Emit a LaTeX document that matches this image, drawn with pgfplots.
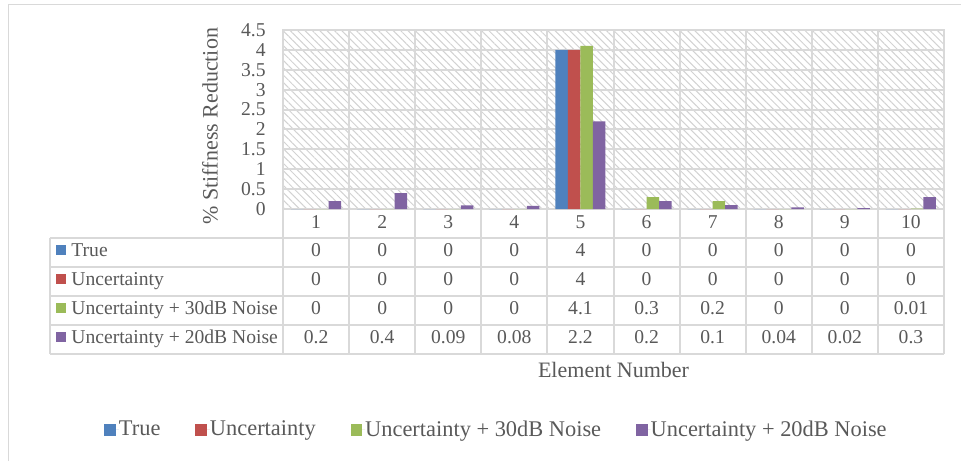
\documentclass[border=0pt]{standalone}
\usepackage{pgfplots}
\pgfplotsset{compat=1.18}
\usepackage{pgfplotstable}
\usetikzlibrary{patterns.meta}
\usepackage{fontspec}
\setmainfont{Liberation Serif}

\definecolor{cTrue}{HTML}{4F81BD}
\definecolor{cUnc}{HTML}{C0504D}
\definecolor{cN30}{HTML}{9BBB59}
\definecolor{cN20}{HTML}{8064A2}
\definecolor{txt}{HTML}{595959}
\definecolor{gridc}{HTML}{D9D9D9}
\definecolor{hatchc}{HTML}{D2D2D2}

% Percentage stiffness reduction identified for each element
\pgfplotstableread{
elem true  unc  nthirty ntwenty
1    0     0    0       0.2
2    0     0    0       0.4
3    0     0    0       0.09
4    0     0    0       0.08
5    4     4    4.1     2.2
6    0     0    0.3     0.2
7    0     0    0.2     0.1
8    0     0    0       0.04
9    0     0    0       0.02
10   0     0    0.01    0.3
}\datatable

\newcommand{\smallfont}{\fontsize{9.8}{11.5}\selectfont}
\newcommand{\bigfont}{\fontsize{11}{13}\selectfont}
\newcommand{\legfont}{\fontsize{11.2}{13}\selectfont}

\begin{document}
\begin{tikzpicture}
\useasboundingbox (-141.5pt,-126pt) rectangle (339pt,104.5pt);
% chart frame
\draw[gridc, line width=0.6pt] (-137.25pt,-126pt) -- (-137.25pt,102.25pt) -- (339pt,102.25pt);

\begin{axis}[
  scale only axis,
  width=330.5pt, height=89.5pt,
  xmin=0.5, xmax=10.5, ymin=0, ymax=4.5,
  ybar=0pt, bar width=6.25pt,
  xtick={1,...,10},
  minor xtick={1.5,2.5,...,9.5},
  ytick={0,0.5,...,4.5},
  xminorgrids, ymajorgrids,
  major tick length=0pt, minor tick length=0pt,
  grid style={draw=gridc, line width=1pt},
  minor grid style={draw=gridc, line width=1pt},
  axis line style={draw=gridc, line width=1pt},
  axis background/.style={pattern={Lines[angle=-45,distance=2.6pt,line width=0.5pt]}, pattern color=hatchc},
  tick label style={font=\smallfont, text=txt},
  yticklabel style={anchor=east, inner sep=0pt, xshift=-8.5pt},
  xticklabel style={anchor=center, inner sep=0pt, yshift=-6.5pt},
  /pgf/number format/assume math mode=true,
  ylabel={\% Stiffness Reduction},
  ylabel style={at={(axis description cs:-0.1104,0.463)}, anchor=center, rotate=0, font=\bigfont, text=txt},
  xlabel={Element Number},
  xlabel style={at={(axis description cs:0.5,-0.8994)}, anchor=center, font=\bigfont, text=txt},
  legend columns=4,
  legend cell align=left,
  legend image code/.code={\path (0pt,0pt) -- (7.25pt,0pt); \fill[#1] (0pt,-2.875pt) rectangle (5.75pt,2.875pt);},
  legend style={at={(axis description cs:0.3216,-1.2346)}, anchor=center, draw=none, fill=none,
    font=\legfont, text=txt, nodes={inner xsep=0pt, inner ysep=0pt},
    /tikz/every even column/.append style={column sep=17.5pt}},
]
\addplot[fill=cTrue, draw=none] table[x=elem, y=true] {\datatable};
\addplot[fill=cUnc,  draw=none] table[x=elem, y=unc] {\datatable};
\addplot[fill=cN30,  draw=none] table[x=elem, y=nthirty] {\datatable};
\addplot[fill=cN20,  draw=none] table[x=elem, y=ntwenty] {\datatable};
\legend{True, Uncertainty, Uncertainty + 30dB Noise, Uncertainty + 20dB Noise}
\end{axis}

% data table under the plot
\begin{scope}[x=1pt, y=1pt]
  \begin{scope}[draw=gridc, line width=1pt]
    \draw (0,-14.5) -- (330.5,-14.5);
    \foreach \yy in {-14.5,-29,-43.5,-58,-72.5}
      \draw (-116.5,\yy) -- (330.5,\yy);
    \draw (-116.5,-14.5) -- (-116.5,-72.5);
    \foreach \i in {0,...,10}
      \draw ({33.05*\i},0) -- ({33.05*\i},-72.5);
  \end{scope}
  \foreach \col/\name/\clr [count=\r from 0] in {true/True/cTrue, unc/Uncertainty/cUnc,
      nthirty/Uncertainty + 30dB Noise/cN30, ntwenty/Uncertainty + 20dB Noise/cN20} {
    \pgfmathsetmacro{\base}{-23.8-14.5*\r}
    \fill[\clr] (-113.5,\base+0.8) rectangle (-108.5,\base+5.8);
    \node[anchor=base west, inner sep=0pt, font=\smallfont, text=txt] at (-106,\base) {\name};
    \foreach \row in {0,...,9} {
      \pgfplotstablegetelem{\row}{\col}\of\datatable
      \node[anchor=base, inner sep=0pt, font=\smallfont, text=txt] at ({33.05*(\row+0.5)},\base) {\pgfplotsretval};
    }
  }
\end{scope}
\end{tikzpicture}
\end{document}
